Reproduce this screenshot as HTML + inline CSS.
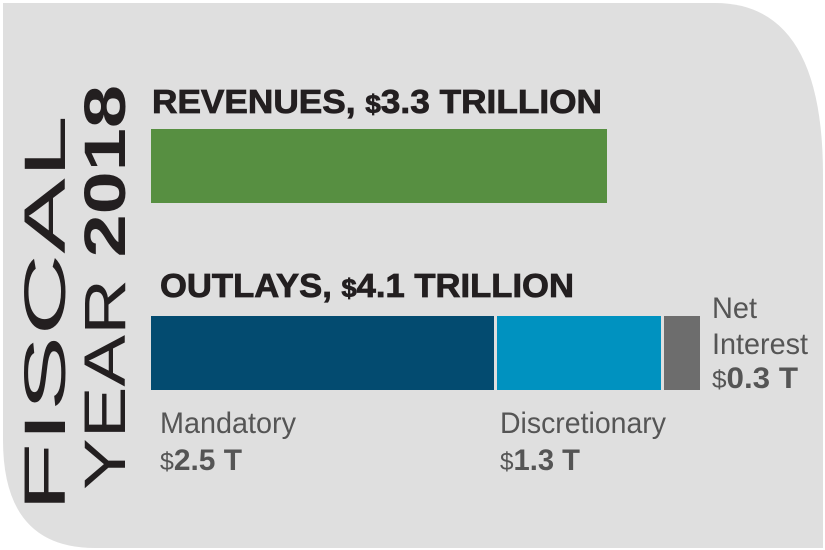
<!DOCTYPE html>
<html><head><meta charset="utf-8"><style>
html,body{margin:0;padding:0;background:#fff;}
svg{display:block;}
text{font-family:"Liberation Sans",sans-serif;}
</style></head><body>
<svg width="825" height="550" viewBox="0 0 825 550" xmlns="http://www.w3.org/2000/svg">
<path d="M3 3 H715 Q823 3 823 175 V548 H95 Q3 548 3 440 Z" fill="#dfdfdf"/>
<rect x="151" y="129" width="456" height="74" fill="#578f41"/>
<rect x="151" y="316" width="343" height="74" fill="#034b70"/>
<rect x="497" y="316" width="164" height="74" fill="#0092c0"/>
<rect x="664" y="316" width="36" height="74" fill="#6d6d6d"/>
<text x="152" y="113" font-size="33" font-weight="bold" fill="#231f20" stroke="#231f20" stroke-width="0.8" textLength="450" lengthAdjust="spacingAndGlyphs">REVENUES, <tspan font-size="26">$</tspan>3.3 TRILLION</text>
<text x="160" y="297" font-size="33" font-weight="bold" fill="#231f20" stroke="#231f20" stroke-width="0.8" textLength="414" lengthAdjust="spacingAndGlyphs">OUTLAYS, <tspan font-size="26">$</tspan>4.1 TRILLION</text>
<text transform="translate(65,512) rotate(-90)" font-size="58" fill="#231f20" textLength="397" lengthAdjust="spacingAndGlyphs">FISCAL</text>
<text transform="translate(125,490) rotate(-90)" font-size="58" fill="#231f20" textLength="405" lengthAdjust="spacingAndGlyphs">YEAR <tspan font-weight="bold">2018</tspan></text>
<g fill="#555">
<text x="160" y="433" font-size="30" textLength="136" lengthAdjust="spacingAndGlyphs">Mandatory</text>
<text x="160" y="470" font-size="30" textLength="82" lengthAdjust="spacingAndGlyphs"><tspan font-size="25">$</tspan><tspan font-weight="bold">2.5 T</tspan></text>
<text x="500" y="433" font-size="30" textLength="166" lengthAdjust="spacingAndGlyphs">Discretionary</text>
<text x="500" y="470" font-size="30" textLength="80" lengthAdjust="spacingAndGlyphs"><tspan font-size="25">$</tspan><tspan font-weight="bold">1.3 T</tspan></text>
<text x="712" y="318" font-size="30" textLength="45" lengthAdjust="spacingAndGlyphs">Net</text>
<text x="712" y="354" font-size="30" textLength="96" lengthAdjust="spacingAndGlyphs">Interest</text>
<text x="712" y="388" font-size="30" textLength="86" lengthAdjust="spacingAndGlyphs"><tspan font-size="25">$</tspan><tspan font-weight="bold">0.3 T</tspan></text>
</g>
</svg>
</body></html>
